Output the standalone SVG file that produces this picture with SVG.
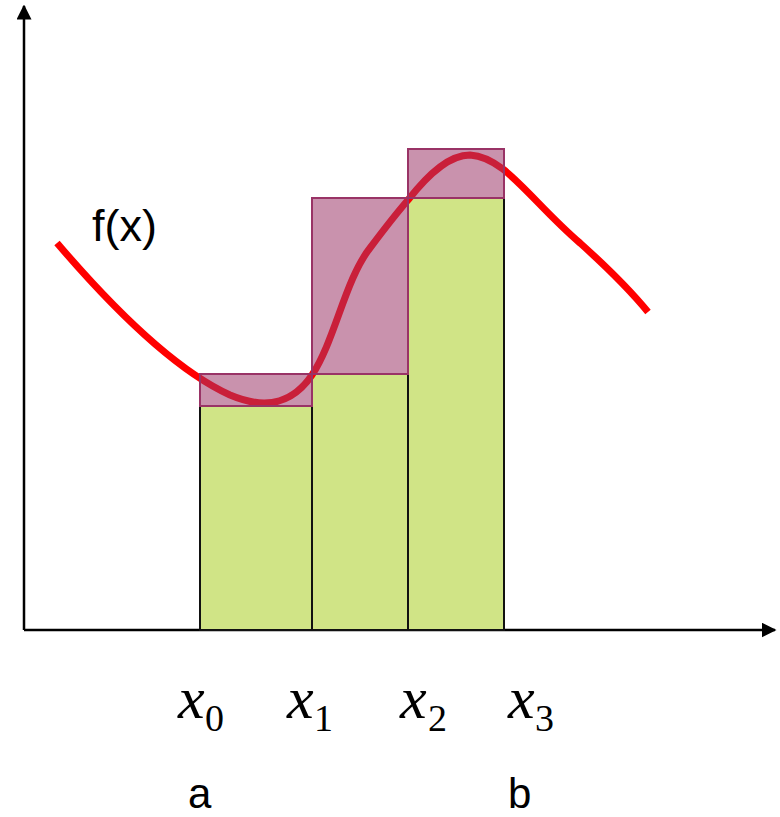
<svg xmlns="http://www.w3.org/2000/svg" width="780" height="817" viewBox="0 0 780 817">
<style>
.green{fill:#d0e486;stroke:#111;stroke-width:2}
.pink{fill:#9c396a;fill-opacity:0.55;stroke:#993366;stroke-width:2}
.axis{stroke:#000;stroke-width:2.5;fill:none}
.curve{fill:none;stroke:#ff0000;stroke-width:7;stroke-linecap:butt}
.lbl{font-family:"Liberation Sans",Arial,sans-serif;font-size:42px;fill:#000}
.fx{font-family:"Liberation Sans",Arial,sans-serif;font-size:45px;fill:#000}
.xv{font-family:"Liberation Serif","Times New Roman",serif;font-style:italic;font-size:60px;fill:#000}
.sub{font-family:"Liberation Serif","Times New Roman",serif;font-size:38px;fill:#000}
</style>
<defs>
<marker id="ah" viewBox="0 0 10 10" refX="9" refY="5" markerWidth="6" markerHeight="6" orient="auto"><path d="M0,0 L10,5 L0,10 z" fill="#000"/></marker>
</defs>
<g id="axes">
<line class="axis" x1="24" y1="630" x2="24" y2="6" marker-end="url(#ah)"/>
<line class="axis" x1="24" y1="630" x2="775" y2="630" marker-end="url(#ah)"/>
</g>
<g id="green-bars">
<rect class="green" x="200" y="406" width="112" height="224"/>
<rect class="green" x="312" y="374" width="96" height="256"/>
<rect class="green" x="408" y="198" width="96" height="432"/>
</g>
<g id="curve">
<path class="curve" d="M57,243 C110,305 175,370 230,395 C270,412 295,400 312,375 C335,340 345,280 370,248 C385,228 395,215 408,200 C430,172 450,155 470,155 C505,157 530,200 580,243 C610,270 630,290 648,312"/>
</g>
<g id="pink-bars">
<rect class="pink" x="200" y="374" width="112" height="32"/>
<rect class="pink" x="312" y="198" width="96" height="176"/>
<rect class="pink" x="408" y="149" width="96" height="49"/>
</g>
<g id="labels">
<text class="fx" x="92" y="241">f(x)</text>
<text class="lbl" x="188" y="808">a</text>
<text class="lbl" x="508" y="808">b</text>
<text class="xv" x="178" y="718">x</text><text class="sub" x="205" y="731">0</text>
<text class="xv" x="287" y="718">x</text><text class="sub" x="314" y="731">1</text>
<text class="xv" x="400" y="718">x</text><text class="sub" x="428" y="731">2</text>
<text class="xv" x="508" y="718">x</text><text class="sub" x="535" y="731">3</text>
</g>
</svg>
